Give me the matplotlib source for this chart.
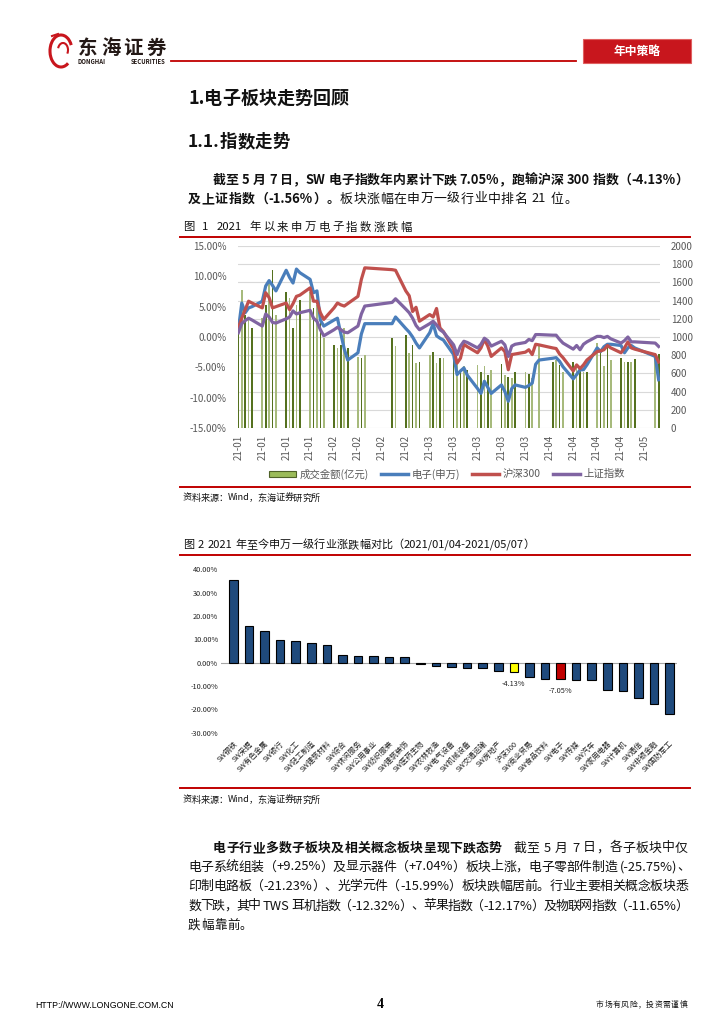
import matplotlib
matplotlib.use('Agg')
import matplotlib.pyplot as plt
import matplotlib.ticker as mticker
import numpy as np
import pandas as pd
from matplotlib.patches import Rectangle, Arc
from matplotlib.lines import Line2D

plt.rcParams['font.family'] = ['Noto Sans CJK SC', 'DejaVu Sans']
plt.rcParams['axes.unicode_minus'] = False

# ---------------- data: chart 1 ----------------
trade_dates = [
    '2021-01-04', '2021-01-05', '2021-01-06', '2021-01-07', '2021-01-08',
    '2021-01-11', '2021-01-12', '2021-01-13', '2021-01-14', '2021-01-15',
    '2021-01-18', '2021-01-19', '2021-01-20', '2021-01-21', '2021-01-22',
    '2021-01-25', '2021-01-26', '2021-01-27', '2021-01-28', '2021-01-29',
    '2021-02-01', '2021-02-02', '2021-02-03', '2021-02-04', '2021-02-05',
    '2021-02-08', '2021-02-09', '2021-02-10',
    '2021-02-18', '2021-02-19',
    '2021-02-22', '2021-02-23', '2021-02-24', '2021-02-25', '2021-02-26',
    '2021-03-01', '2021-03-02', '2021-03-03', '2021-03-04', '2021-03-05',
    '2021-03-08', '2021-03-09', '2021-03-10', '2021-03-11', '2021-03-12',
    '2021-03-15', '2021-03-16', '2021-03-17', '2021-03-18', '2021-03-19',
    '2021-03-22', '2021-03-23', '2021-03-24', '2021-03-25', '2021-03-26',
    '2021-03-29', '2021-03-30', '2021-03-31',
    '2021-04-01', '2021-04-02',
    '2021-04-06', '2021-04-07', '2021-04-08', '2021-04-09',
    '2021-04-12', '2021-04-13', '2021-04-14', '2021-04-15', '2021-04-16',
    '2021-04-19', '2021-04-20', '2021-04-21', '2021-04-22', '2021-04-23',
    '2021-04-26', '2021-04-27', '2021-04-28', '2021-04-29', '2021-04-30',
    '2021-05-06', '2021-05-07']

turnover = [
    1040, 1520, 1245, 1210, 1100, 1210, 1355, 1610, 1740, 1245,
    1500, 1430, 1100, 1355, 1410, 1500, 1320, 1355, 1190, 990,
    910, 880, 915, 1100, 880,
    775, 770, 800,
    990, 900,
    1025, 825, 915, 715, 730,
    805, 840, 715, 770, 770,
    825, 730, 620, 680, 640,
    695, 620, 680, 585, 640,
    705, 585, 555, 550, 620,
    620, 595, 550,
    np.nan, 900,
    730, 750, 695, 620,
    730, 680, 640, 620, 620,
    935, 825, 680, 915, 750,
    770, 730, 730, 730, 760,
    825, 815]

sw_electronics = [
    1.2, 5.6, 4.0, 4.8, 5.0, 5.9, 8.4, 9.3, 8.5, 7.6,
    11.0, 9.8, 8.9, 11.2, 10.6, 9.5, 7.3, 7.6, 2.8, 1.8,
    2.8, 3.1, 0.5, -2.0, -3.8,
    -2.6, 0.5, 2.2,
    2.2, 3.3,
    1.4, 0.8, 0.0, -1.0, -1.8,
    0.7, 2.2, 0.2, -0.2, -0.5,
    -2.9, -6.2, -5.6, -5.1, -6.3,
    -8.5, -9.3, -7.3, -8.3, -9.3,
    -7.9, -9.0, -10.6, -8.5, -7.9,
    -8.3, -8.0, -7.6,
    -4.5, -3.8,
    -3.5, -3.4, -4.0, -4.9,
    -6.9, -6.2, -5.4, -5.4, -4.6,
    -1.8, -2.4, -1.6, -1.2, -1.2,
    -1.4, -2.6, -1.8, -1.4, -1.8,
    -3.2, -7.05]

hs300 = [
    1.5, 3.1, 4.5, 5.9, 5.6, 4.8, 7.3, 6.5, 4.8, 5.0,
    5.6, 4.5, 5.5, 6.7, 6.9, 8.1, 5.9, 5.9, 4.0, 2.9,
    4.8, 5.6, 5.3, 5.1, 5.5,
    6.7, 9.5, 11.4,
    11.1, 11.0,
    7.6, 6.8, 4.2, 4.9, 2.6,
    3.7, 3.3, 4.7, 1.5, 0.9,
    -2.0, -4.3, -3.5, -1.2, -1.6,
    -2.6, -1.8, -0.4, -1.5, -3.2,
    -1.8, -2.4, -5.4, -2.9, -2.8,
    -2.5, -2.1, -2.9,
    -1.2, -1.3,
    -1.8, -1.9, -2.8, -3.4,
    -5.6, -4.6, -5.2, -4.6, -3.8,
    -2.4, -2.3, -2.1, -1.4, -1.8,
    -2.6, -1.8, -0.8, -1.8, -2.0,
    -2.9, -4.13]

sh_composite = [
    0.7, 2.2, 2.7, 3.1, 2.8, 1.8, 3.8, 3.3, 2.4, 2.3,
    3.0, 3.3, 4.3, 3.8, 4.0, 4.4, 3.1, 2.6, 1.2, 0.2,
    1.2, 1.6, 1.2, 0.8, 0.7,
    1.8, 3.8, 5.1,
    5.7, 6.3,
    4.6, 4.0, 3.1, 1.9, 1.2,
    2.2, 2.6, 2.0, 1.2, 0.8,
    -1.3, -2.9, -1.5, -0.7, -0.9,
    -1.8, -1.2, -0.2, -0.6, -1.5,
    -0.7, -1.3, -3.2, -1.5, -1.2,
    -0.9, -0.4, -0.6,
    0.4, 0.4,
    0.3, 0.3, -0.4, -1.0,
    -2.0, -1.4, -2.1, -1.2, -0.8,
    0.1, 0.1, -0.1, 0.1, -0.3,
    -1.0, -0.6, 0.0, -0.8, -0.8,
    -1.0, -1.56]

series_names = ['成交金额(亿元)', '电子(申万)', '沪深300', '上证指数']

# ---------------- data: chart 2 ----------------
industries = ['SW钢铁', 'SW采掘', 'SW有色金属', 'SW银行', 'SW化工', 'SW轻工制造',
              'SW建筑材料', 'SW综合', 'SW休闲服务', 'SW公用事业', 'SW纺织服装',
              'SW建筑装饰', 'SW医药生物', 'SW农林牧渔', 'SW电气设备', 'SW机械设备',
              'SW交通运输', 'SW房地产', '沪深300', 'SW商业贸易', 'SW食品饮料',
              'SW电子', 'SW传媒', 'SW汽车', 'SW家用电器', 'SW计算机', 'SW通信',
              'SW非银金融', 'SW国防军工']
industry_chg = [35.3, 15.8, 13.6, 9.9, 9.2, 8.3, 7.5, 3.2, 2.8, 2.8, 2.4, 2.4,
                -0.4, -1.6, -1.9, -2.4, -2.4, -3.4, -4.13, -6.2, -6.9, -7.05,
                -7.6, -7.6, -11.9, -12.3, -15.1, -17.9, -22.2]

# ---------------- figure ----------------
W, H = 724, 1024
fig = plt.figure(figsize=(W / 100, H / 100), dpi=100)
renderer = fig.canvas.get_renderer()

page = fig.add_axes([0, 0, 1, 1])
page.set_xlim(0, W)
page.set_ylim(H, 0)
page.axis('off')

RED = '#c00000'


def ax_rect(l, t, r, b):
    return [l / W, 1 - b / H, (r - l) / W, (b - t) / H]


def place_line(segs, x0, y, size, x1=None, color='#111111', tracking=0.0):
    toks = []
    for txt, bold in segs:
        buf = ''
        for ch in txt:
            if ch == ' ':
                if buf:
                    toks.append((buf, bold)); buf = ''
                toks.append((' ', bold))
            elif ord(ch) < 128:
                buf += ch
            else:
                if buf:
                    toks.append((buf, bold)); buf = ''
                toks.append((ch, bold))
        if buf:
            toks.append((buf, bold))
    objs, widths = [], []
    for t, b in toks:
        if t == ' ':
            objs.append(None)
            widths.append(size * 100 / 72 * 0.28)
        else:
            o = page.text(0, y, t, fontsize=size, fontweight='bold' if b else 'normal',
                          va='center', ha='left', color=color)
            objs.append(o)
            widths.append(o.get_window_extent(renderer).width)
    gap = tracking
    if x1 is not None and len(toks) > 1:
        gap = (x1 - x0 - sum(widths)) / (len(toks) - 1)
    x = x0
    for o, w in zip(objs, widths):
        if o is not None:
            o.set_x(x)
        x += w + gap


# ---------------- header ----------------
LOGO_RED = '#c8161d'
page.add_patch(Arc((61, 51), 22, 32, theta1=60, theta2=330, color=LOGO_RED, lw=2.2))
page.add_patch(Arc((63, 50), 10, 14, theta1=200, theta2=40, color=LOGO_RED, lw=1.5))
page.plot([52, 58], [36, 34], color=LOGO_RED, lw=1.5)
place_line([('东海证券', True)], 78, 48, 14, x1=166, color='#231815')
place_line([('DONGHAI SECURITIES', True)], 78, 61, 4.3, x1=166, color='#231815')
page.plot([171, 576], [60.5, 60.5], color=RED, lw=1.3)
page.add_patch(Rectangle((583, 39), 108, 24, facecolor=LOGO_RED, edgecolor='#e06060', lw=0.8))
page.text(637, 51, '年中策略', color='white', fontsize=8.5, fontweight='bold',
          ha='center', va='center')

# ---------------- headings & paragraph 1 ----------------
place_line([('1.电子板块走势回顾', True)], 188, 98, 13)
place_line([('1.1.指数走势', True)], 188, 142, 12.5)
place_line([('截至 5 月 7 日，SW 电子指数年内累计下跌 7.05%，跑输沪深 300 指数（-4.13%）', True)],
           213, 180, 9.3, x1=688)
place_line([('及上证指数（-1.56%）。', True), ('板块涨幅在申万一级行业中排名 21 位。', False)],
           188, 199, 9.3, x1=577)

# ---------------- chart 1 ----------------
place_line([('图 1 2021 年以来申万电子指数涨跌幅', False)], 183, 227, 8.2, x1=412)
page.plot([180, 690], [237, 237], color=RED, lw=1.4)

dates = pd.to_datetime(trade_dates)
ax1 = fig.add_axes(ax_rect(237.5, 246, 659.5, 428))
ax2 = ax1.twinx()

bar_cols = ['#55711f' if i % 2 == 0 else '#a7ba7c' for i in range(len(turnover))]
ax2.bar(dates, turnover, width=0.5, color=bar_cols, linewidth=0)
ax2.set_ylim(0, 2000)
ax2.set_yticks(np.arange(0, 2001, 200))

ax1.plot(dates, sw_electronics, color='#4a7ebb', lw=2.3, solid_joinstyle='round')
ax1.plot(dates, hs300, color='#c0504d', lw=2.3, solid_joinstyle='round')
ax1.plot(dates, sh_composite, color='#8064a2', lw=2.3, solid_joinstyle='round')
ax1.set_ylim(-15, 15)
ax1.set_yticks(np.arange(-15, 15.1, 5))
ax1.yaxis.set_major_formatter(mticker.FuncFormatter(lambda v, p: f'{v:.2f}%'))
ax1.set_zorder(ax2.get_zorder() + 1)
ax1.patch.set_visible(False)
ax2.grid(axis='y', color='#d9d9d9', lw=0.8)
ax2.set_axisbelow(True)

ax1.set_xlim(dates[0] - pd.Timedelta(hours=6), dates[-1] + pd.Timedelta(hours=6))
tick_dates = pd.date_range(dates[0], dates[-1], freq='7D')
ax1.set_xticks(tick_dates)
ax1.set_xticklabels([d.strftime('%y-%m') for d in tick_dates], rotation=90)
for a in (ax1, ax2):
    for s in a.spines.values():
        s.set_visible(False)
    a.tick_params(length=0, labelsize=7, labelcolor='#595959')
ax1.tick_params(axis='y', pad=8)
ax2.tick_params(axis='y', pad=8)
ax1.tick_params(axis='x', pad=5)

handles = [Rectangle((0, 0), 1, 1, facecolor='#9bbb59', edgecolor='#4f6228', lw=0.8),
           Line2D([], [], color='#4a7ebb', lw=2.5),
           Line2D([], [], color='#c0504d', lw=2.5),
           Line2D([], [], color='#8064a2', lw=2.5)]
fig.legend(handles, series_names, loc='center', bbox_to_anchor=(447 / W, 1 - 474 / H),
           ncol=4, frameon=False, fontsize=7.5, labelcolor='#595959',
           handlelength=2.6, handleheight=0.5, columnspacing=1.2, handletextpad=0.3)

page.plot([180, 690], [486.5, 486.5], color=RED, lw=1.4)
place_line([('资料来源：', False), ('Wind，东海证券研究所', False)], 183, 498, 6.6, x1=320)

# ---------------- chart 2 ----------------
place_line([('图 2 2021 年至今申万一级行业涨跌幅对比（2021/01/04-2021/05/07）', False)],
           183, 545, 8.0, x1=535)
page.plot([180, 690], [555, 555], color=RED, lw=1.4)

ax3 = fig.add_axes(ax_rect(221, 569.3, 677, 732.7))
xpos = np.arange(len(industries))
cols = ['#1f4a7c'] * len(industries)
cols[industries.index('沪深300')] = '#ffff00'
cols[industries.index('SW电子')] = '#c00000'
ax3.bar(xpos, industry_chg, width=0.55, color=cols, edgecolor='black', lw=0.8, zorder=3)
ax3.axhline(0, color='#a6a6a6', lw=0.8, zorder=2)
ax3.set_xlim(-0.79, 28.47)
ax3.set_ylim(-30, 40)
ax3.set_yticks(np.arange(-30, 41, 10))
ax3.yaxis.set_major_formatter(mticker.FuncFormatter(lambda v, p: f'{v:.2f}%'))
ax3.set_xticks(xpos)
ax3.set_xticklabels(industries, rotation=45, ha='right', rotation_mode='anchor')
for s in ax3.spines.values():
    s.set_visible(False)
ax3.tick_params(length=0, labelsize=5.3, labelcolor='#222222')
ax3.tick_params(axis='x', pad=5)
ax3.tick_params(axis='y', pad=2)
for name in ['沪深300', 'SW电子']:
    i = industries.index(name)
    ax3.annotate(f'{industry_chg[i]:.2f}%', (i, industry_chg[i]), xytext=(0, -8.5),
                 textcoords='offset points', ha='center', va='center', fontsize=5.3,
                 color='#222222')

page.plot([180, 690], [788, 788], color=RED, lw=1.4)
place_line([('资料来源：', False), ('Wind，东海证券研究所', False)], 183, 800, 6.6, x1=320)

# ---------------- paragraph 2 ----------------
place_line([('电子行业多数子板块及相关概念板块呈现下跌态势', True),
            ('   截至 5 月 7 日，各子板块中仅', False)], 213, 848, 9.3, x1=688)
place_line([('电子系统组装（+9.25%）及显示器件（+7.04%）板块上涨，电子零部件制造 (-25.75%)、', False)],
           188, 867, 9.3, x1=690)
place_line([('印制电路板（-21.23%）、光学元件（-15.99%）板块跌幅居前。行业主要相关概念板块悉', False)],
           188, 886.5, 9.3, x1=688)
place_line([('数下跌，其中 TWS 耳机指数（-12.32%）、苹果指数（-12.17%）及物联网指数（-11.65%）', False)],
           188, 906, 9.3, x1=688)
place_line([('跌幅靠前。', False)], 188, 925.5, 9.0, tracking=0.5)

# ---------------- footer ----------------
page.text(35, 1005, 'HTTP://WWW.LONGONE.COM.CN', fontsize=6.3, ha='left', va='center',
          family=['Liberation Sans Narrow', 'Liberation Sans', 'DejaVu Sans'])
page.text(380, 1005, '4', fontsize=10, fontweight='bold', ha='center', va='center',
          family=['Liberation Serif', 'DejaVu Serif'])
place_line([('市场有风险，投资需谨慎', False)], 596, 1005, 5.6, tracking=0.6)

fig.savefig('out.png', dpi=100)
